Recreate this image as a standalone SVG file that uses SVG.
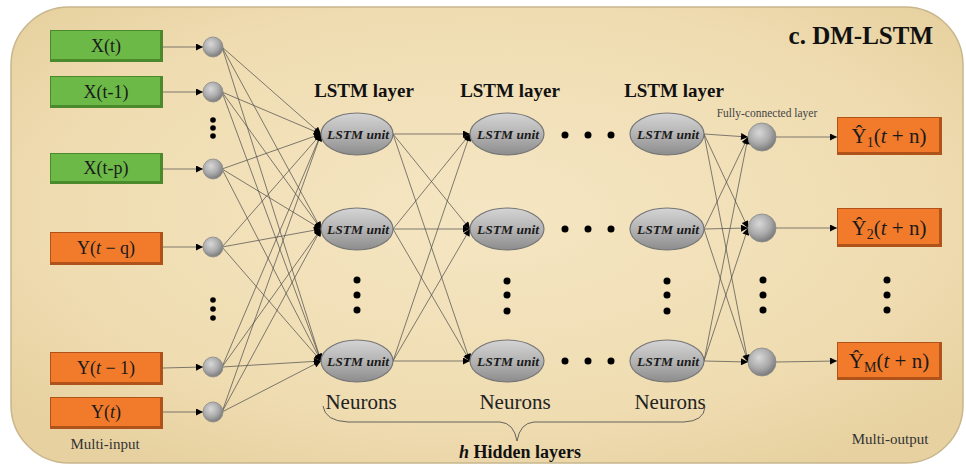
<svg xmlns="http://www.w3.org/2000/svg" width="966" height="468" viewBox="0 0 966 468">
<defs>
  <radialGradient id="bg" cx="50%" cy="45%" r="65%">
    <stop offset="0" stop-color="#f5e6c3"/>
    <stop offset="0.7" stop-color="#efdcb1"/>
    <stop offset="1" stop-color="#e7d1a0"/>
  </radialGradient>
  <linearGradient id="ell" x1="0" y1="0" x2="0" y2="1">
    <stop offset="0" stop-color="#d4d4d4"/>
    <stop offset="0.5" stop-color="#b4b4b4"/>
    <stop offset="1" stop-color="#8c8c8c"/>
  </linearGradient>
  <radialGradient id="ball" cx="40%" cy="35%" r="65%">
    <stop offset="0" stop-color="#d8d8d8"/>
    <stop offset="0.6" stop-color="#aaaaaa"/>
    <stop offset="1" stop-color="#7c7c7c"/>
  </radialGradient>
  <marker id="ah" viewBox="0 0 10 10" refX="10" refY="5" markerWidth="8" markerHeight="7" markerUnits="userSpaceOnUse" orient="auto">
    <path d="M0,0 L10,5 L0,10 z" fill="#000"/>
  </marker>
  <style>
    .serif{font-family:"Liberation Serif","Times New Roman",serif;}
    .box{font-family:"Liberation Serif","Times New Roman",serif;font-size:18px;fill:#1a1a1a;text-anchor:middle;}
    .out{font-family:"Liberation Serif","Times New Roman",serif;font-size:21px;fill:#1a1a1a;text-anchor:middle;}
    .unit{font-family:"Liberation Serif","Times New Roman",serif;font-size:13.5px;font-weight:bold;font-style:italic;fill:#1a1a1a;text-anchor:middle;}
    .layer{font-family:"Liberation Serif","Times New Roman",serif;font-size:19px;font-weight:bold;fill:#111;text-anchor:middle;}
    .neur{font-family:"Liberation Serif","Times New Roman",serif;font-size:21px;fill:#222;text-anchor:middle;}
    .small{font-family:"Liberation Serif","Times New Roman",serif;font-size:15px;fill:#333;text-anchor:middle;}
    .gOuter{fill:#4a8a2c;}
    .gInner{fill:#6cb948;}
    .oOuter{fill:#b0531b;}
    .oInner{fill:#f27b2b;}
    .ell{fill:url(#ell);stroke:#767676;stroke-width:1.2;}
    .ball{fill:url(#ball);stroke:#8a8a8a;stroke-width:0.8;}
    .dot{fill:#000;}
    .conn line{stroke:#4a4a4a;stroke-width:0.7;fill:none;}
    .conn .arr{marker-end:url(#ah);}
    .feed{stroke:#333;stroke-width:1;marker-end:url(#ah);}
  </style>
</defs>

<rect x="0" y="0" width="966" height="468" fill="#ffffff"/>
<rect x="11" y="7" width="952" height="456" rx="58" ry="58" fill="url(#bg)" stroke="#c8b68c" stroke-width="1.5"/>

<text class="serif" x="933" y="44" font-size="25" font-weight="bold" text-anchor="end" fill="#111">c. DM-LSTM</text>

<!-- Input boxes -->
<g id="in-xt"><rect class="gOuter" x="50" y="30" width="113" height="32"/><rect class="gInner" x="51" y="31" width="109" height="28"/><text class="box" x="106" y="52">X(t)</text></g>
<g id="in-xt1"><rect class="gOuter" x="50" y="76" width="113" height="32"/><rect class="gInner" x="51" y="77" width="109" height="28"/><text class="box" x="106" y="98">X(t-1)</text></g>
<g id="in-xtp"><rect class="gOuter" x="50" y="153" width="113" height="31"/><rect class="gInner" x="51" y="154" width="109" height="27"/><text class="box" x="106" y="174">X(t-p)</text></g>
<g id="in-ytq"><rect class="oOuter" x="50" y="232" width="113" height="33"/><rect class="oInner" x="51" y="233" width="109" height="29"/><text class="box" x="106" y="254">Y(<tspan font-style="italic">t</tspan> − q)</text></g>
<g id="in-yt1"><rect class="oOuter" x="50" y="352" width="113" height="33"/><rect class="oInner" x="51" y="353" width="109" height="29"/><text class="box" x="106" y="374">Y(<tspan font-style="italic">t</tspan> − 1)</text></g>
<g id="in-yt"><rect class="oOuter" x="50" y="397" width="113" height="32"/><rect class="oInner" x="51" y="398" width="109" height="28"/><text class="box" x="106" y="418">Y(<tspan font-style="italic">t</tspan>)</text></g>
<text class="small" x="105" y="449">Multi-input</text>

<!-- Connectors -->
<g id="connectors" class="conn">
  <line class="feed" x1="163" y1="47" x2="203" y2="47"/>
  <line class="feed" x1="163" y1="92" x2="203" y2="92"/>
  <line class="feed" x1="163" y1="169" x2="203" y2="169"/>
  <line class="feed" x1="163" y1="247" x2="203" y2="247"/>
  <line class="feed" x1="163" y1="368" x2="203" y2="367"/>
  <line class="feed" x1="163" y1="412" x2="203" y2="412"/>
  <line class="arr" x1="222" y1="47" x2="321" y2="134"/>
  <line class="arr" x1="222" y1="47" x2="321" y2="229"/>
  <line class="arr" x1="222" y1="47" x2="321" y2="361"/>
  <line class="arr" x1="222" y1="92" x2="321" y2="134"/>
  <line class="arr" x1="222" y1="92" x2="321" y2="229"/>
  <line class="arr" x1="222" y1="92" x2="321" y2="361"/>
  <line class="arr" x1="222" y1="169" x2="321" y2="134"/>
  <line class="arr" x1="222" y1="169" x2="321" y2="229"/>
  <line class="arr" x1="222" y1="169" x2="321" y2="361"/>
  <line class="arr" x1="222" y1="247" x2="321" y2="134"/>
  <line class="arr" x1="222" y1="247" x2="321" y2="229"/>
  <line class="arr" x1="222" y1="247" x2="321" y2="361"/>
  <line class="arr" x1="222" y1="367" x2="321" y2="134"/>
  <line class="arr" x1="222" y1="367" x2="321" y2="229"/>
  <line class="arr" x1="222" y1="367" x2="321" y2="361"/>
  <line class="arr" x1="222" y1="412" x2="321" y2="134"/>
  <line class="arr" x1="222" y1="412" x2="321" y2="229"/>
  <line class="arr" x1="222" y1="412" x2="321" y2="361"/>
  <line class="arr" x1="393" y1="134" x2="470" y2="134"/>
  <line class="arr" x1="393" y1="134" x2="470" y2="229"/>
  <line class="arr" x1="393" y1="134" x2="470" y2="361"/>
  <line class="arr" x1="393" y1="229" x2="470" y2="134"/>
  <line class="arr" x1="393" y1="229" x2="470" y2="229"/>
  <line class="arr" x1="393" y1="229" x2="470" y2="361"/>
  <line class="arr" x1="393" y1="361" x2="470" y2="134"/>
  <line class="arr" x1="393" y1="361" x2="470" y2="229"/>
  <line class="arr" x1="393" y1="361" x2="470" y2="361"/>
  <line class="arr" x1="704" y1="134" x2="748" y2="137"/>
  <line class="arr" x1="704" y1="134" x2="748" y2="228"/>
  <line class="arr" x1="704" y1="134" x2="748" y2="362"/>
  <line class="arr" x1="704" y1="229" x2="748" y2="137"/>
  <line class="arr" x1="704" y1="229" x2="748" y2="228"/>
  <line class="arr" x1="704" y1="229" x2="748" y2="362"/>
  <line class="arr" x1="704" y1="361" x2="748" y2="137"/>
  <line class="arr" x1="704" y1="361" x2="748" y2="228"/>
  <line class="arr" x1="704" y1="361" x2="748" y2="362"/>
  <line class="feed" x1="776" y1="137" x2="837" y2="137"/>
  <line class="feed" x1="776" y1="228" x2="837" y2="228"/>
  <line class="feed" x1="776" y1="362" x2="837" y2="361"/>
</g>

<!-- Input neurons -->
<g id="n-in1"><circle class="ball" cx="213" cy="47" r="10"/></g>
<g id="n-in2"><circle class="ball" cx="213" cy="92" r="10"/></g>
<g id="n-in3"><circle class="ball" cx="213" cy="169" r="10"/></g>
<g id="n-in4"><circle class="ball" cx="213" cy="247" r="10"/></g>
<g id="n-in5"><circle class="ball" cx="213" cy="367" r="10"/></g>
<g id="n-in6"><circle class="ball" cx="213" cy="412" r="10"/></g>
<circle class="dot" cx="213" cy="120" r="2.8"/><circle class="dot" cx="213" cy="128" r="2.8"/><circle class="dot" cx="213" cy="136" r="2.8"/>
<circle class="dot" cx="213" cy="300" r="2.8"/><circle class="dot" cx="213" cy="309" r="2.8"/><circle class="dot" cx="213" cy="318" r="2.8"/>

<!-- LSTM layers -->
<text class="layer" x="364" y="97">LSTM layer</text>
<text class="layer" x="510" y="97">LSTM layer</text>
<text class="layer" x="674" y="97">LSTM layer</text>

<g id="l1-u1"><ellipse class="ell" cx="357" cy="134" rx="36" ry="21"/><text class="unit" x="358" y="139">LSTM unit</text></g>
<g id="l1-u2"><ellipse class="ell" cx="357" cy="229" rx="36" ry="21"/><text class="unit" x="358" y="234">LSTM unit</text></g>
<g id="l1-u3"><ellipse class="ell" cx="357" cy="361" rx="36" ry="21"/><text class="unit" x="358" y="366">LSTM unit</text></g>
<g id="l2-u1"><ellipse class="ell" cx="507" cy="134" rx="37" ry="21"/><text class="unit" x="508" y="139">LSTM unit</text></g>
<g id="l2-u2"><ellipse class="ell" cx="507" cy="229" rx="37" ry="21"/><text class="unit" x="508" y="234">LSTM unit</text></g>
<g id="l2-u3"><ellipse class="ell" cx="507" cy="361" rx="37" ry="21"/><text class="unit" x="508" y="366">LSTM unit</text></g>
<g id="l3-u1"><ellipse class="ell" cx="667" cy="134" rx="37" ry="21"/><text class="unit" x="668" y="139">LSTM unit</text></g>
<g id="l3-u2"><ellipse class="ell" cx="667" cy="229" rx="37" ry="21"/><text class="unit" x="668" y="234">LSTM unit</text></g>
<g id="l3-u3"><ellipse class="ell" cx="667" cy="361" rx="37" ry="21"/><text class="unit" x="668" y="366">LSTM unit</text></g>

<circle class="dot" cx="565" cy="135" r="3.5"/><circle class="dot" cx="588" cy="135" r="3.5"/><circle class="dot" cx="611" cy="135" r="3.5"/>
<circle class="dot" cx="565" cy="229" r="3.5"/><circle class="dot" cx="588" cy="229" r="3.5"/><circle class="dot" cx="611" cy="229" r="3.5"/>
<circle class="dot" cx="565" cy="361" r="3.5"/><circle class="dot" cx="588" cy="361" r="3.5"/><circle class="dot" cx="611" cy="361" r="3.5"/>
<circle class="dot" cx="357" cy="280" r="3.5"/><circle class="dot" cx="357" cy="295" r="3.5"/><circle class="dot" cx="357" cy="310" r="3.5"/>
<circle class="dot" cx="507" cy="281" r="3.5"/><circle class="dot" cx="507" cy="295" r="3.5"/><circle class="dot" cx="507" cy="311" r="3.5"/>
<circle class="dot" cx="667" cy="281" r="3.5"/><circle class="dot" cx="667" cy="295" r="3.5"/><circle class="dot" cx="667" cy="311" r="3.5"/>

<text class="neur" x="361" y="409">Neurons</text>
<text class="neur" x="515" y="409">Neurons</text>
<text class="neur" x="670" y="409">Neurons</text>

<path d="M323,406 Q325,421 348,422 L500,422 Q514,423 517,441 Q520,423 534,422 L684,422 Q704,421 705,407" fill="none" stroke="#555" stroke-width="0.9"/>
<text class="serif" x="520" y="458" font-size="18" font-weight="bold" text-anchor="middle" fill="#111"><tspan font-style="italic">h</tspan> Hidden layers</text>

<!-- Fully connected -->
<text class="serif" x="767" y="117" font-size="11.5" text-anchor="middle" fill="#444">Fully-connected layer</text>
<g id="fc1"><circle class="ball" cx="762" cy="137" r="14"/></g>
<g id="fc2"><circle class="ball" cx="762" cy="228" r="14"/></g>
<g id="fc3"><circle class="ball" cx="762" cy="362" r="14"/></g>
<circle class="dot" cx="763" cy="280" r="3.5"/><circle class="dot" cx="763" cy="295" r="3.5"/><circle class="dot" cx="763" cy="310" r="3.5"/>

<!-- Outputs -->
<g id="out1"><rect class="oOuter" x="837" y="117" width="105" height="38"/><rect class="oInner" x="838" y="118" width="101" height="34"/><text class="out" x="889" y="143">Ŷ<tspan font-size="14" dy="4">1</tspan><tspan dy="-4">(</tspan><tspan font-style="italic">t</tspan> + n)</text></g>
<g id="out2"><rect class="oOuter" x="837" y="208" width="105" height="39"/><rect class="oInner" x="838" y="209" width="101" height="35"/><text class="out" x="889" y="235">Ŷ<tspan font-size="14" dy="4">2</tspan><tspan dy="-4">(</tspan><tspan font-style="italic">t</tspan> + n)</text></g>
<g id="out3"><rect class="oOuter" x="837" y="342" width="105" height="38"/><rect class="oInner" x="838" y="343" width="101" height="34"/><text class="out" x="889" y="368">Ŷ<tspan font-size="14" dy="4">M</tspan><tspan dy="-4">(</tspan><tspan font-style="italic">t</tspan> + n)</text></g>
<circle class="dot" cx="887" cy="280" r="3.5"/><circle class="dot" cx="887" cy="295" r="3.5"/><circle class="dot" cx="887" cy="310" r="3.5"/>
<text class="small" x="890" y="444">Multi-output</text>
</svg>
